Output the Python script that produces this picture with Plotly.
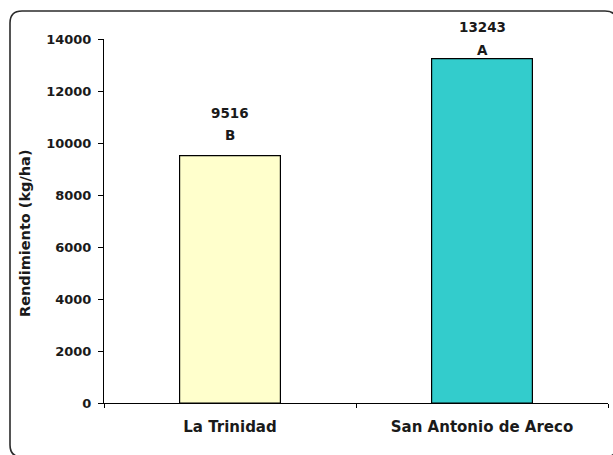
import plotly.graph_objects as go

# Grain yield by locality
localities = ["La Trinidad", "San Antonio de Areco"]
yield_kg_ha = [9516, 13243]
groups = ["B", "A"]
y_ticks = [0, 2000, 4000, 6000, 8000, 10000, 12000, 14000]

bar_colors = ["#FFFFCC", "#33CCCC"]
# vertical pixel offsets of the value and group labels above each bar top
value_shift = [43, 32]
group_shift = [21, 9]

W, H = 613, 455
L, R, T, B = 104, 5, 39, 52
plot_w = W - L - R
plot_h = H - T - B

FONT = "DejaVu Sans"
INK = "#1a1a1a"

fig = go.Figure()
fig.add_trace(go.Bar(
    x=localities,
    y=yield_kg_ha,
    marker=dict(color=bar_colors, line=dict(color="#000000", width=1.2)),
    width=0.4,
    hoverinfo="x+y",
))

for loc, val, grp, vs, gs in zip(localities, yield_kg_ha, groups, value_shift, group_shift):
    fig.add_annotation(x=loc, y=val, text=f"<b>{val}</b>", showarrow=False,
                       yanchor="middle", yshift=vs,
                       font=dict(family=FONT, size=13.5, color=INK))
    fig.add_annotation(x=loc, y=val, text=f"<b>{grp}</b>", showarrow=False,
                       yanchor="middle", yshift=gs,
                       font=dict(family=FONT, size=13.5, color=INK))

# y-axis title
fig.add_annotation(x=(25 - L) / plot_w, y=(H - B - 233) / plot_h,
                   xref="paper", yref="paper", text="<b>Rendimiento (kg/ha)</b>",
                   textangle=-90, showarrow=False, xanchor="center", yanchor="middle",
                   font=dict(family=FONT, size=14.5, color=INK))

# rounded frame around the chart (partly beyond the page edge)
def px_x(v):
    return (v - L) / plot_w

def px_y(v):
    return (H - B - v) / plot_h

x0, y0, x1, y1, r = 10, 11, 617, 457, 12
path = (
    f"M {px_x(x0)},{px_y(y0 + r)} "
    f"Q {px_x(x0)},{px_y(y0)} {px_x(x0 + r)},{px_y(y0)} "
    f"L {px_x(x1 - r)},{px_y(y0)} "
    f"Q {px_x(x1)},{px_y(y0)} {px_x(x1)},{px_y(y0 + r)} "
    f"L {px_x(x1)},{px_y(y1 - r)} "
    f"Q {px_x(x1)},{px_y(y1)} {px_x(x1 - r)},{px_y(y1)} "
    f"L {px_x(x0 + r)},{px_y(y1)} "
    f"Q {px_x(x0)},{px_y(y1)} {px_x(x0)},{px_y(y1 - r)} Z"
)
fig.add_shape(type="path", path=path, xref="paper", yref="paper",
              line=dict(color="#2b2b2b", width=1.6), layer="below")

fig.update_layout(
    width=W, height=H,
    margin=dict(l=L, r=R, t=T, b=B, pad=0),
    paper_bgcolor="white", plot_bgcolor="white",
    showlegend=False,
    bargap=0.6,
    xaxis=dict(
        showline=True, linecolor="#000000", linewidth=1,
        ticks="outside", tickson="boundaries", ticklen=4, tickcolor="#000000",
        showgrid=False, zeroline=False, ticklabelstandoff=10,
        tickfont=dict(family=FONT, size=15, color=INK, weight="bold"),
    ),
    yaxis=dict(
        range=[0, 14000], tickvals=y_ticks, tickformat="d",
        showline=True, linecolor="#000000", linewidth=1,
        ticks="outside", ticklen=5, tickcolor="#000000",
        showgrid=False, zeroline=False, ticklabelstandoff=4,
        tickfont=dict(family=FONT, size=13, color=INK, weight="bold"),
    ),
)

fig.write_html("out.html")
